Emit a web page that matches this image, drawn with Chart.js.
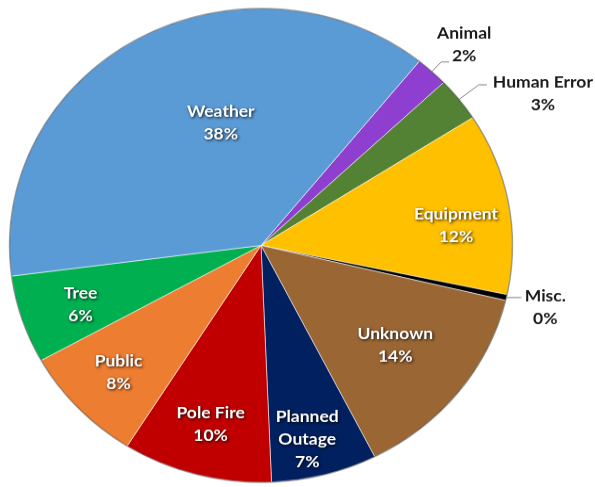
<!DOCTYPE html>
<html>
<head>
<meta charset="utf-8">
<script src="https://cdn.jsdelivr.net/npm/chart.js@4/dist/chart.umd.min.js"></script>
<style>
    html, body { margin: 0; padding: 0; background: #ffffff; overflow: hidden; }
    /* the reference pie is slightly squashed vertically */
    #wrap { width: 595px; height: 517px; transform: scaleY(0.942); transform-origin: 0 0; }
</style>
</head>
<body>
<div id="wrap"><canvas id="graficoCausas"></canvas></div>
<script>
// Outage causes, clockwise starting just right of the top
const categories = ['Animal', 'Human Error', 'Equipment', 'Misc.', 'Unknown', 'Planned Outage', 'Pole Fire', 'Public', 'Tree', 'Weather'];
const shares = [2.1, 3.0, 12.4, 0.4, 13.8, 6.8, 9.6, 8.0, 6.0, 37.9];
const sliceColors = ['#8e3fcf', '#548235', '#ffc000', '#000000', '#9a6634', '#002060', '#c00000', '#ed7d31', '#00b050', '#5b9bd5'];

// where each label goes (inside slice or outside with a leader line)
const labelPlacement = {
    'Weather': { radius: 0.54, shift: 12 },
    'Equipment': { radius: 0.78, shift: 4 },
    'Unknown': { radius: 0.68 },
    'Planned Outage': { radius: 0.84, shift: 2, lines: ['Planned', 'Outage'] },
    'Tree': { radius: 0.76, shift: -1 },
    'Animal': { outside: true, elbow: 1.055, tail: 8, dx: 15, dy: -18 },
    'Human Error': { outside: true, elbow: 1.10, tail: 8, dx: 56, dy: 9 },
    'Misc.': { outside: true, elbow: 1.0, tail: 15, dx: 24, dy: 10 }
};

const sliceLabels = {
    id: 'sliceLabels',
    afterDatasetsDraw(chart) {
        const ctx = chart.ctx;
        const arcs = chart.getDatasetMeta(0).data;
        const lineH = 24;

        // dark rim round the pie
        const first = arcs[0];
        ctx.save();
        ctx.beginPath();
        ctx.arc(first.x, first.y, first.outerRadius, 0, Math.PI * 2);
        ctx.strokeStyle = 'rgba(0, 0, 0, 0.35)';
        ctx.lineWidth = 1.5;
        ctx.stroke();
        ctx.restore();

        arcs.forEach((arc, i) => {
            const name = categories[i];
            const place = labelPlacement[name] || {};
            const lines = (place.lines || [name]).concat([Math.round(shares[i]) + '%']);
            const mid = (arc.startAngle + arc.endAngle) / 2 + (place.shift || 0) * Math.PI / 180;
            const R = arc.outerRadius;
            let cx, cy;

            ctx.save();
            ctx.font = 'bold 17.5px Lato, "Open Sans", sans-serif';
            ctx.textAlign = 'center';
            ctx.textBaseline = 'middle';

            if (place.outside) {
                const ex = arc.x + Math.cos(mid) * R;
                const ey = arc.y + Math.sin(mid) * R;
                const kx = arc.x + Math.cos(mid) * R * place.elbow;
                const ky = arc.y + Math.sin(mid) * R * place.elbow;
                const tx = kx + place.tail;
                ctx.beginPath();
                ctx.moveTo(ex, ey);
                ctx.lineTo(kx, ky);
                ctx.lineTo(tx, ky);
                ctx.strokeStyle = '#808080';
                ctx.lineWidth = 1;
                ctx.stroke();
                cx = tx + place.dx;
                cy = ky + place.dy;
                ctx.fillStyle = '#1a1a1a';
            } else {
                const rr = R * (place.radius || 0.78);
                cx = arc.x + Math.cos(mid) * rr;
                cy = arc.y + Math.sin(mid) * rr;
                ctx.fillStyle = '#ffffff';
                ctx.shadowColor = 'rgba(0, 0, 0, 0.9)';
                ctx.shadowBlur = 3;
                ctx.shadowOffsetX = 1;
                ctx.shadowOffsetY = 1;
            }

            const top = cy - (lines.length - 1) * lineH / 2;
            lines.forEach((t, k) => ctx.fillText(t, cx, top + k * lineH));
            ctx.restore();
        });
    }
};

document.addEventListener('DOMContentLoaded', () => {
    const ctxCausas = document.getElementById('graficoCausas').getContext('2d');
    new Chart(ctxCausas, {
        type: 'pie',
        data: {
            labels: categories,
            datasets: [{
                data: shares,
                backgroundColor: sliceColors,
                borderColor: 'rgba(255, 255, 255, 0.55)',
                borderWidth: 1
            }]
        },
        options: {
            responsive: true,
            maintainAspectRatio: false,
            animation: false,
            rotation: 39,
            layout: { padding: { top: 8, bottom: 4, left: 9, right: 82 } },
            plugins: {
                legend: { display: false },
                tooltip: { enabled: false }
            }
        },
        plugins: [sliceLabels]
    });
});
</script>
</body>
</html>
